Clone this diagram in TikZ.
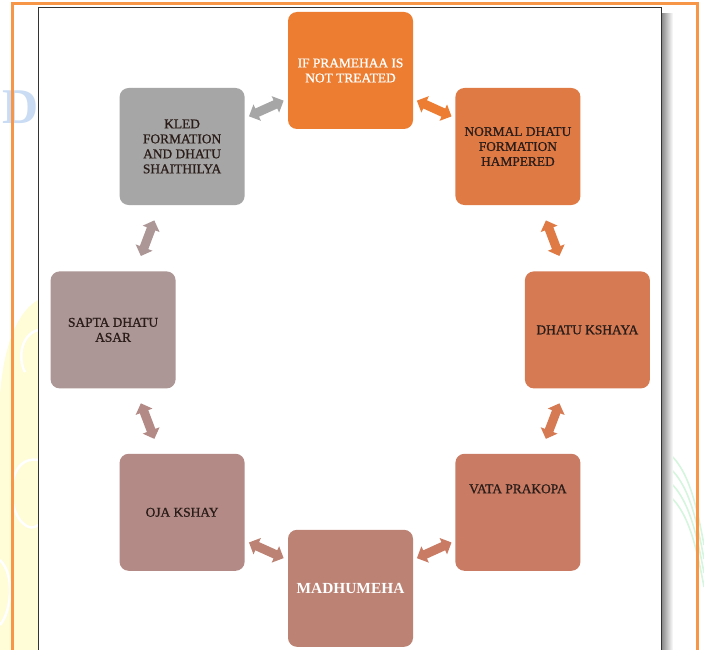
\documentclass[tikz,border=0pt]{standalone}
\usepackage{fontspec}
\setmainfont{Liberation Serif}
\newfontfamily\stagefont[RawFeature={embolden=0.9}]{Liberation Serif}
\usepackage{tikz}
\usetikzlibrary{positioning,shapes.arrows}

\definecolor{cPram}{HTML}{ED7D31}
\definecolor{cDhatu}{HTML}{E07A45}
\definecolor{cKshaya}{HTML}{D57A53}
\definecolor{cVata}{HTML}{C97B64}
\definecolor{cMadhu}{HTML}{BC8274}
\definecolor{cOja}{HTML}{B38A86}
\definecolor{cSapta}{HTML}{AD9696}
\definecolor{cKled}{HTML}{A6A6A6}
\definecolor{txtdark}{HTML}{2A1D19}
\definecolor{frameor}{HTML}{F79646}
\definecolor{wmyellow}{HTML}{FFFCD8}
\definecolor{wmgreen}{HTML}{D6F5DE}
\definecolor{wmblue}{HTML}{C9DCF3}

\begin{document}
\begin{tikzpicture}[x=1pt, y=-1pt,
    stage/.style={rounded corners=9pt, minimum width=125pt, minimum height=117pt,
      inner sep=0pt, align=center, text=txtdark, font=\stagefont\fontsize{13.4}{15}\selectfont},
    link/.style={double arrow, double arrow head extend=4.5pt, minimum height=38pt,
      inner sep=4.3pt, sloped}]
    \useasboundingbox (0,0) rectangle (704,650);
    \clip (0,0) rectangle (704,650);
    % faint watermark behind the page
    \fill[wmyellow] (0,395) .. controls (4,340) and (20,310) .. (38,300) -- (38,650) -- (0,650) -- cycle;
    \draw[white, line width=2.5pt] (38,330) .. controls (20,335) and (18,360) .. (25,372);
    \draw[white, line width=2.5pt] (38,460) .. controls (10,455) and (5,500) .. (20,520) .. controls (28,530) and (35,528) .. (38,525);
    \draw[white, line width=2.5pt] (0,560) .. controls (15,575) and (12,610) .. (0,625);
    \foreach \d in {0,14,28,42}
      \draw[wmgreen, line width=1.6pt] (662,448+\d) .. controls (684,462+\d) and (694,490+\d) .. (704,545+\d);
    \node[text=wmblue, font=\bfseries\fontsize{50}{50}\selectfont, anchor=base west, inner sep=0pt] (wm) at (2,124) {D.};
    % page
    \draw[frameor, line width=3pt] (12,4) rectangle (697,670);
    \shade[left color=black!45, right color=white] (662,14) rectangle (673,650);
    \draw[black!80, fill=white, line width=1pt] (38.5,8) rectangle (661.5,670);

    \node[stage, fill=cPram, text=white] (prameha) at (350.5,70.5) {IF PRAMEHAA IS\\NOT TREATED};
    \node[stage, fill=cDhatu, right=42pt of prameha, yshift=-76pt] (dhatu) {NORMAL DHATU\\FORMATION\\HAMPERED};
    \node[stage, fill=cKshaya, below=66pt of dhatu, xshift=69.5pt] (kshaya) {DHATU KSHAYA};
    \node[stage, fill=cVata, below=65pt of kshaya, xshift=-69.5pt, text depth=47pt] (vata) {VATA PRAKOPA};
    \node[stage, fill=cMadhu, text=white, left=42pt of vata, yshift=-76pt,
      font=\bfseries\fontsize{15.4}{17}\selectfont] (madhu) {MADHUMEHA};
    \node[stage, fill=cOja, left=43pt of madhu, yshift=76pt] (oja) {OJA KSHAY};
    \node[stage, fill=cSapta, above=65pt of oja, xshift=-69pt] (sapta) {SAPTA DHATU\\ASAR};
    \node[stage, fill=cKled, above=66pt of sapta, xshift=69pt] (kled) {KLED\\FORMATION\\AND DHATU\\SHAITHILYA};

    \path (prameha) -- node[link, fill=cPram!95!cDhatu] {} (dhatu);
    \path (dhatu) -- node[link, fill=cDhatu] {} (kshaya);
    \path (kshaya) -- node[link, fill=cKshaya] {} (vata);
    \path (vata) -- node[link, fill=cVata] {} (madhu);
    \path (madhu) -- node[link, fill=cMadhu] {} (oja);
    \path (oja) -- node[link, fill=cOja] {} (sapta);
    \path (sapta) -- node[link, fill=cSapta] {} (kled);
    \path (kled) -- node[link, fill=cKled] {} (prameha);
\end{tikzpicture}
\end{document}
